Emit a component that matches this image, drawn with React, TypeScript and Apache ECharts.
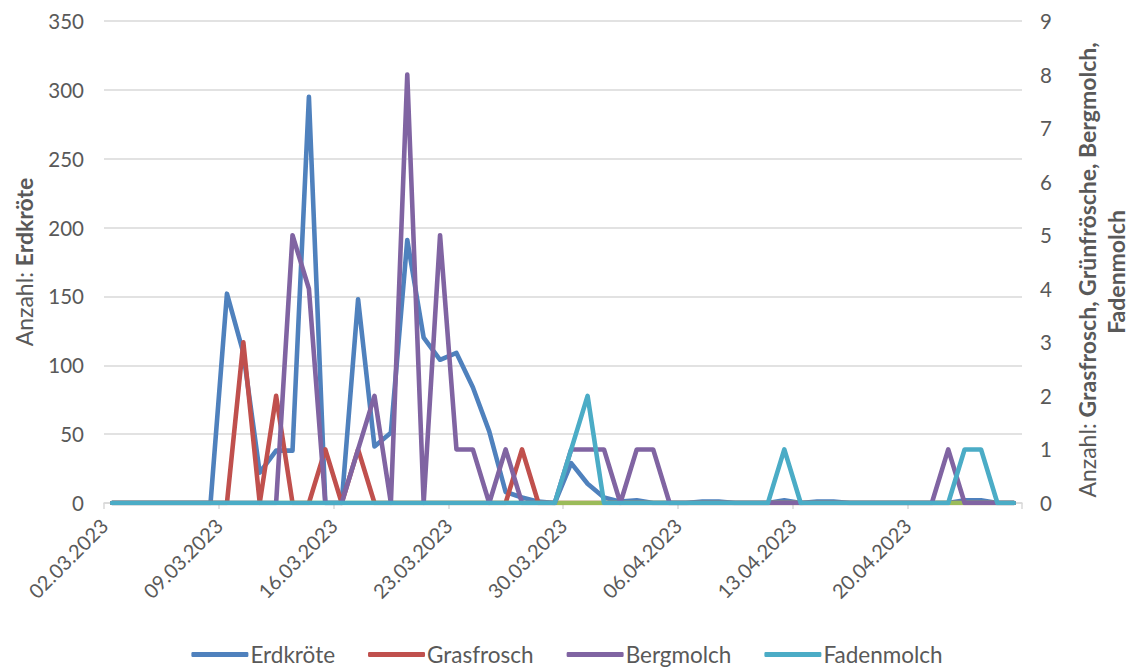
import React, { useEffect, useRef } from "react";
import * as echarts from "echarts";

// Daily survey dates (02.03.2023 – 26.04.2023)
const days: string[] = [
  "02.03.2023", "03.03.2023", "04.03.2023", "05.03.2023", "06.03.2023", "07.03.2023", "08.03.2023",
  "09.03.2023", "10.03.2023", "11.03.2023", "12.03.2023", "13.03.2023", "14.03.2023", "15.03.2023",
  "16.03.2023", "17.03.2023", "18.03.2023", "19.03.2023", "20.03.2023", "21.03.2023", "22.03.2023",
  "23.03.2023", "24.03.2023", "25.03.2023", "26.03.2023", "27.03.2023", "28.03.2023", "29.03.2023",
  "30.03.2023", "31.03.2023", "01.04.2023", "02.04.2023", "03.04.2023", "04.04.2023", "05.04.2023",
  "06.04.2023", "07.04.2023", "08.04.2023", "09.04.2023", "10.04.2023", "11.04.2023", "12.04.2023",
  "13.04.2023", "14.04.2023", "15.04.2023", "16.04.2023", "17.04.2023", "18.04.2023", "19.04.2023",
  "20.04.2023", "21.04.2023", "22.04.2023", "23.04.2023", "24.04.2023", "25.04.2023", "26.04.2023",
];

// Counts per day
const erdkroete: number[] = [
  0, 0, 0, 0, 0, 0, 0,
  152, 109, 22, 38, 38, 295, 0,
  0, 148, 41, 51, 191, 120, 104,
  109, 84, 52, 8, 4, 1, 0,
  29, 14, 4, 1, 2, 0, 0,
  0, 1, 1, 0, 0, 0, 2,
  0, 1, 1, 0, 0, 0, 0,
  0, 0, 0, 2, 2, 0, 0,
];
const grasfrosch: number[] = [
  0, 0, 0, 0, 0, 0, 0,
  0, 3, 0, 2, 0, 0, 1,
  0, 1, 0, 0, 0, 0, 0,
  0, 0, 0, 0, 1, 0, 0,
  0, 0, 0, 0, 0, 0, 0,
  0, 0, 0, 0, 0, 0, 0,
  0, 0, 0, 0, 0, 0, 0,
  0, 0, 0, 0, 0, 0, 0,
];
const gruenfrosch: number[] = [
  0, 0, 0, 0, 0, 0, 0,
  0, 0, 0, 0, 0, 0, 0,
  0, 0, 0, 0, 0, 0, 0,
  0, 0, 0, 0, 0, 0, 0,
  0, 0, 0, 0, 0, 0, 0,
  0, 0, 0, 0, 0, 0, 0,
  0, 0, 0, 0, 0, 0, 0,
  0, 0, 0, 0, 0, 0, 0,
];
const bergmolch: number[] = [
  0, 0, 0, 0, 0, 0, 0,
  0, 0, 0, 0, 5, 4, 0,
  0, 1, 2, 0, 8, 0, 5,
  1, 1, 0, 1, 0, 0, 0,
  1, 1, 1, 0, 1, 1, 0,
  0, 0, 0, 0, 0, 0, 0,
  0, 0, 0, 0, 0, 0, 0,
  0, 0, 1, 0, 0, 0, 0,
];
const fadenmolch: number[] = [
  0, 0, 0, 0, 0, 0, 0,
  0, 0, 0, 0, 0, 0, 0,
  0, 0, 0, 0, 0, 0, 0,
  0, 0, 0, 0, 0, 0, 0,
  1, 2, 0, 0, 0, 0, 0,
  0, 0, 0, 0, 0, 0, 1,
  0, 0, 0, 0, 0, 0, 0,
  0, 0, 0, 1, 1, 0, 0,
];

const leftTicks = { min: 0, max: 350, interval: 50 };
const rightTicks = { min: 0, max: 9, interval: 1 };

const FONT = "Lato, 'Liberation Sans', sans-serif";
const TEXT = "#595959";
const GRID = "#d9d9d9";

// Each day sits in the middle of its one-day slot on the date axis
const toPoints = (vals: number[]) => vals.map((v, i) => [i + 0.5, v]);

const lineSeries = (name: string, vals: number[], color: string, yAxisIndex: number) => ({
  name,
  type: "line",
  yAxisIndex,
  data: toPoints(vals),
  showSymbol: false,
  symbol: "none",
  color,
  lineStyle: { width: 4.6, color, cap: "round", join: "round" },
});

const titleRich = {
  n: { fontSize: 23, fill: TEXT, fontFamily: FONT },
  b: { fontSize: 23, fill: TEXT, fontFamily: FONT, fontWeight: "bold" },
};

export default function App() {
  const ref = useRef<HTMLDivElement>(null);

  useEffect(() => {
    if (!ref.current) return;
    const chart = echarts.init(ref.current, undefined, { renderer: "svg" });
    chart.setOption({
      animation: false,
      backgroundColor: "#ffffff",
      textStyle: { fontFamily: FONT },
      grid: { left: 104, right: 112, top: 21, bottom: 169, containLabel: false },
      xAxis: {
        type: "value",
        min: 0,
        max: days.length,
        interval: 7,
        axisLine: { show: true, lineStyle: { color: GRID, width: 1.5 } },
        axisTick: { show: true, length: 6, lineStyle: { color: GRID, width: 1.5 } },
        splitLine: { show: false },
        axisLabel: {
          rotate: 45,
          margin: 19,
          padding: [34, 0, 0, 0],
          fontSize: 20,
          color: TEXT,
          fontFamily: FONT,
          formatter: (v: number) => (v < days.length ? days[v] : ""),
        },
      },
      yAxis: [
        {
          type: "value",
          ...leftTicks,
          axisLine: { show: false },
          axisTick: { show: false },
          splitLine: { show: true, lineStyle: { color: GRID, width: 1.5 } },
          axisLabel: { fontSize: 20.5, color: TEXT, margin: 20, fontFamily: FONT },
        },
        {
          type: "value",
          position: "right",
          ...rightTicks,
          axisLine: { show: false },
          axisTick: { show: false },
          splitLine: { show: false },
          axisLabel: { fontSize: 20.5, color: TEXT, margin: 18, fontFamily: FONT },
        },
      ],
      legend: {
        data: ["Erdkröte", "Grasfrosch", "Bergmolch", "Fadenmolch"],
        bottom: 1,
        left: "center",
        icon: "roundRect",
        itemWidth: 57,
        itemHeight: 5,
        itemGap: 33,
        textStyle: { fontSize: 22.5, color: TEXT, fontFamily: FONT, padding: [0, 0, 0, -3] },
      },
      graphic: [
        {
          type: "text",
          x: 24,
          y: 262,
          rotation: Math.PI / 2,
          style: {
            text: "{n|Anzahl: }{b|Erdkröte}",
            align: "center",
            verticalAlign: "middle",
            rich: titleRich,
          },
        },
        {
          type: "text",
          x: 1087,
          y: 270,
          rotation: Math.PI / 2,
          style: {
            text: "{n|Anzahl: }{b|Grasfrosch, Grünfrösche, Bergmolch,}",
            align: "center",
            verticalAlign: "middle",
            rich: titleRich,
          },
        },
        {
          type: "text",
          x: 1116,
          y: 272,
          rotation: Math.PI / 2,
          style: {
            text: "Fadenmolch",
            align: "center",
            verticalAlign: "middle",
            fontSize: 23,
            fontWeight: "bold",
            fill: TEXT,
            fontFamily: FONT,
          },
        },
      ],
      series: [
        lineSeries("Erdkröte", erdkroete, "#4f81bd", 0),
        lineSeries("Grasfrosch", grasfrosch, "#c0504d", 1),
        lineSeries("Grünfrosch", gruenfrosch, "#9bbb59", 1),
        lineSeries("Bergmolch", bergmolch, "#8064a2", 1),
        lineSeries("Fadenmolch", fadenmolch, "#4bacc6", 1),
      ],
    });
    return () => chart.dispose();
  }, []);

  return (
    <div
      ref={ref}
      style={{ position: "fixed", left: 0, top: 0, width: 1134, height: 672 }}
    />
  );
}
